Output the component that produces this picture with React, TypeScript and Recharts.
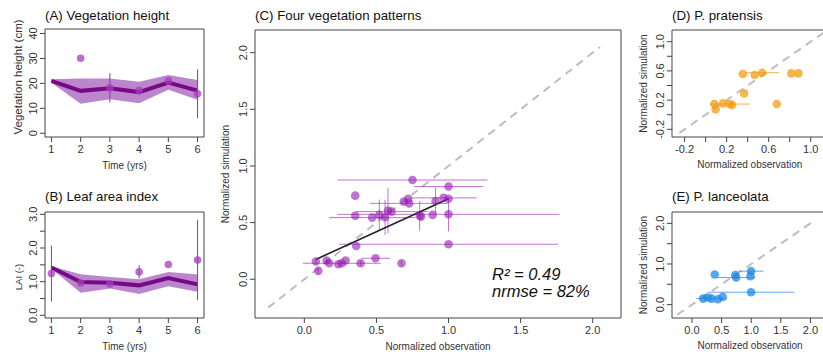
import React from 'react';
import {
  ComposedChart, Area, Line, Scatter, XAxis, YAxis, ErrorBar, ReferenceLine, ReferenceArea,
} from 'recharts';

// (A) vegetation height, years 1-6
const years = [1, 2, 3, 4, 5, 6];
const heightSim = [21, 17, 18, 16.5, 20.3, 17.1];
const heightLo = [20.3, 11.8, 13.6, 12, 17.4, 13.4];
const heightHi = [21.7, 22, 22, 20.7, 23.4, 21.4];
const heightObsYears = [2, 3, 4, 5, 6];
const heightObs = [30.1, 18.2, 17.1, 21, 15.8];
const heightObsErr = [0, 5.9, 0, 0, 9.8];

// (B) leaf area index
const laiSim = [1.42, 0.99, 0.97, 0.89, 1.11, 0.92];
const laiLo = [1.38, 0.67, 0.8, 0.63, 0.86, 0.7];
const laiHi = [1.46, 1.22, 1.14, 1.07, 1.29, 1.21];
const laiObs = [1.24, 0.96, 0.93, 1.29, 1.51, 1.64];
const laiObsErr = [0.83, 0, 0, 0.2, 0, 1.19];

// (C) all four patterns: observation, simulation, half widths of the error bars
const allObs = [0.75, 1.0, 0.353, 0.72, 0.727, 0.69, 0.91, 0.965, 1.0, 0.353, 0.47, 0.52, 0.56, 0.58, 0.605, 0.8,
  0.81, 0.89, 1.0, 0.36, 1.0, 0.08, 0.097, 0.155, 0.173, 0.236, 0.26, 0.286, 0.39, 0.494, 0.674];
const allSim = [0.876, 0.818, 0.738, 0.71, 0.67, 0.685, 0.69, 0.718, 0.71, 0.56, 0.544, 0.568, 0.547, 0.606, 0.597, 0.56,
  0.553, 0.568, 0.573, 0.294, 0.309, 0.156, 0.074, 0.165, 0.141, 0.132, 0.141, 0.165, 0.141, 0.185, 0.141];
const allObsErr = [0.52, 0.24, 0, 0, 0.27, 0, 0, 0.23, 0, 0, 0.3, 0, 0, 0, 0.25, 0,
  0, 0, 0.77, 0, 0.76, 0, 0, 0, 0, 0, 0.27, 0, 0, 0.1, 0];
const allSimErr = [0, 0, 0, 0, 0, 0, 0.12, 0, 0, 0, 0, 0.135, 0.155, 0.2, 0, 0.13,
  0, 0, 0.15, 0, 0, 0.02, 0.03, 0.02, 0, 0, 0, 0, 0.02, 0, 0.02];
const fitLine = [[0.08, 0.175], [1.0, 0.71]];
const oneToOne = [-0.25, 2.05];

// (D) P. pratensis
const pratObs = [0.354, 0.468, 0.538, 0.815, 0.883, 0.366, 0.677, 0.083, 0.095, 0.166, 0.23, 0.252];
const pratSim = [0.557, 0.543, 0.575, 0.566, 0.566, 0.292, 0.146, 0.146, 0.073, 0.155, 0.146, 0.132];
const pratObsErr = [0, 0, 0.16, 0, 0, 0, 0, 0, 0, 0, 0.19, 0];

// (E) P. lanceolata
const lancObs = [0.384, 0.73, 0.746, 0.997, 0.987, 0.997, 0.187, 0.267, 0.437, 0.517, 0.33];
const lancSim = [0.74, 0.73, 0.667, 0.823, 0.7, 0.305, 0.148, 0.173, 0.132, 0.19, 0.148];
const lancObsErr = [0, 0, 0.33, 0.21, 0, 0.73, 0, 0, 0, 0, 0.26];

const FONT = '"Liberation Sans", Arial, sans-serif';
const INK = '#333';
const PURPLE = '#9419b0';
const DARK = '#760a86';
const BAND = '#bb86cc';
const ORANGE = '#f39c12';
const BLUE = '#1e88e5';
const GREY = '#bdbdbd';

const same = (a: number, b: number) => Math.abs(a - b) < 1e-6;

const xTick = (labels: number[], digits: number) => (props: any) => {
  const { x, y, payload } = props;
  if (!labels.some((l) => same(l, payload.value))) return <g />;
  return (
    <text x={x} y={y} dy="0.71em" textAnchor="middle" fontSize={11} fill={INK}>
      {Number(payload.value).toFixed(digits)}
    </text>
  );
};

const yTick = (labels: number[], digits: number) => (props: any) => {
  const { x, y, payload } = props;
  if (!labels.some((l) => same(l, payload.value))) return <g />;
  return (
    <text x={x} y={y} transform={`rotate(-90, ${x}, ${y})`} textAnchor="middle" fontSize={11} fill={INK}>
      {Number(payload.value).toFixed(digits)}
    </text>
  );
};

interface PanelProps {
  left: number; top: number; width: number; height: number;
  box: { l: number; t: number; r: number; b: number };
  xDomain: number[]; yDomain: number[];
  xTicks: number[]; yTicks: number[];
  xLabels?: number[]; yLabels?: number[];
  xDigits: number; yDigits: number;
  xTitle: string; xTitleBase: number;
  yTitle: string; yTitleX: number; yTitleY?: number; yTitleSize?: number;
  data?: any[];
  children: React.ReactNode;
}

function Panel(p: PanelProps) {
  const axisH = p.xTitleBase - p.box.b;
  const ty = (p.yTitleY ?? (p.box.t + p.box.b) / 2) - p.top;
  const tx = p.yTitleX - p.left;
  return (
    <div style={{ position: 'absolute', left: p.left, top: p.top }}>
      <ComposedChart
        width={p.width}
        height={p.height}
        data={p.data}
        margin={{
          top: p.box.t - p.top,
          right: p.left + p.width - p.box.r,
          bottom: p.top + p.height - p.box.b - axisH,
          left: 0,
        }}
      >
        <XAxis
          type="number"
          dataKey="x"
          domain={p.xDomain}
          ticks={p.xTicks}
          interval={0}
          allowDataOverflow
          axisLine={false}
          tickLine={{ stroke: '#444' }}
          tickSize={5}
          tickMargin={3}
          height={axisH}
          tick={xTick(p.xLabels ?? p.xTicks, p.xDigits)}
          label={{ value: p.xTitle, position: 'insideBottom', offset: 0, fontSize: 10, fill: INK }}
        />
        <YAxis
          type="number"
          domain={p.yDomain}
          ticks={p.yTicks}
          interval={0}
          allowDataOverflow
          axisLine={false}
          tickLine={{ stroke: '#444' }}
          tickSize={5}
          tickMargin={3}
          width={p.box.l - p.left}
          tick={yTick(p.yLabels ?? p.yTicks, p.yDigits)}
          label={{
            content: () => (
              <text
                x={tx} y={ty} dy="0.35em" transform={`rotate(-90, ${tx}, ${ty})`}
                textAnchor="middle" fontSize={p.yTitleSize ?? 10} fill={INK}
              >
                {p.yTitle}
              </text>
            ),
          }}
        />
        <ReferenceArea
          x1={p.xDomain[0]} x2={p.xDomain[1]} y1={p.yDomain[0]} y2={p.yDomain[1]}
          fill="none" stroke="#444" strokeWidth={1}
        />
        {p.children}
      </ComposedChart>
    </div>
  );
}

const dot = (fill: string, opacity: number, r: number) => (props: any) => (
  <circle cx={props.cx} cy={props.cy} r={r} fill={fill} fillOpacity={opacity} />
);

const heightData = years.map((x, i) => ({ x, sim: heightSim[i], band: [heightLo[i], heightHi[i]] }));
const heightPts = heightObsYears.map((x, i) => ({ x, y: heightObs[i], err: heightObsErr[i] }));
const laiData = years.map((x, i) => ({ x, sim: laiSim[i], band: [laiLo[i], laiHi[i]] }));
const laiPts = years.map((x, i) => ({ x, y: laiObs[i], err: laiObsErr[i] }));
const allPts = allObs.map((x, i) => ({ x, y: allSim[i], ex: allObsErr[i], ey: allSimErr[i] }));
const pratPts = pratObs.map((x, i) => ({ x, y: pratSim[i], ex: pratObsErr[i] }));
const lancPts = lancObs.map((x, i) => ({ x, y: lancSim[i], ex: lancObsErr[i] }));

const diag = (
  <ReferenceLine
    segment={[{ x: oneToOne[0], y: oneToOne[0] }, { x: oneToOne[1], y: oneToOne[1] }]}
    stroke={GREY} strokeWidth={2} strokeDasharray="8 6" ifOverflow="hidden"
  />
);

export default function App() {
  return (
    <div
      style={{
        position: 'absolute', left: 0, top: 0, width: 823, height: 352, overflow: 'hidden',
        background: '#fff', fontFamily: FONT,
      }}
    >
      <Panel
        left={0} top={0} width={215} height={176}
        box={{ l: 45, t: 29, r: 204, b: 137 }}
        xDomain={[0.78, 6.22]} yDomain={[-1.5, 41.8]}
        xTicks={years} yTicks={[0, 10, 20, 30, 40]} xDigits={0} yDigits={0}
        xTitle="Time (yrs)" xTitleBase={168.5}
        yTitle="Vegetation height (cm)" yTitleX={17.5} yTitleY={77} yTitleSize={11.5}
        data={heightData}
      >
        <Area dataKey="band" type="linear" fill={BAND} fillOpacity={1} stroke="none" isAnimationActive={false} />
        <Line dataKey="sim" type="linear" stroke={DARK} strokeWidth={4} dot={false} isAnimationActive={false} />
        <Scatter data={heightPts} dataKey="y" shape={dot('#a33cbf', 0.75, 3.8)} isAnimationActive={false}>
          <ErrorBar dataKey="err" direction="y" width={0} stroke="#9a2fb5" strokeWidth={1} />
        </Scatter>
      </Panel>

      <Panel
        left={0} top={176} width={215} height={176}
        box={{ l: 45, t: 212, r: 204, b: 318 }}
        xDomain={[0.78, 6.22]} yDomain={[-0.08, 3.07]}
        xTicks={years} yTicks={[0, 0.5, 1, 1.5, 2, 2.5, 3]} yLabels={[0, 1, 2, 3]} xDigits={0} yDigits={1}
        xTitle="Time (yrs)" xTitleBase={349.5}
        yTitle="LAI (-)" yTitleX={18.5} yTitleY={277} yTitleSize={9.5}
        data={laiData}
      >
        <Area dataKey="band" type="linear" fill={BAND} fillOpacity={1} stroke="none" isAnimationActive={false} />
        <Line dataKey="sim" type="linear" stroke={DARK} strokeWidth={4} dot={false} isAnimationActive={false} />
        <Scatter data={laiPts} dataKey="y" shape={dot('#a33cbf', 0.75, 3.8)} isAnimationActive={false}>
          <ErrorBar dataKey="err" direction="y" width={0} stroke="#9a2fb5" strokeWidth={1} />
        </Scatter>
      </Panel>

      <Panel
        left={215} top={0} width={410} height={352}
        box={{ l: 255, t: 30, r: 621, b: 318 }}
        xDomain={[-0.342, 2.196]} yDomain={[-0.342, 2.2]}
        xTicks={[0, 0.5, 1, 1.5, 2]} yTicks={[0, 0.5, 1, 1.5, 2]} xDigits={1} yDigits={1}
        xTitle="Normalized observation" xTitleBase={349.5}
        yTitle="Normalized simulation" yTitleX={225}
      >
        {diag}
        <Scatter data={allPts} dataKey="y" shape={dot(PURPLE, 0.6, 4.3)} isAnimationActive={false}>
          <ErrorBar dataKey="ex" direction="x" width={0} stroke={PURPLE} strokeOpacity={0.6} strokeWidth={1} />
          <ErrorBar dataKey="ey" direction="y" width={0} stroke={PURPLE} strokeOpacity={0.6} strokeWidth={1} />
        </Scatter>
        <ReferenceLine
          segment={[{ x: fitLine[0][0], y: fitLine[0][1] }, { x: fitLine[1][0], y: fitLine[1][1] }]}
          stroke="#222" strokeWidth={1.6}
        />
      </Panel>

      <Panel
        left={620} top={0} width={210} height={176}
        box={{ l: 672, t: 30, r: 827.5, b: 137 }}
        xDomain={[-0.32, 1.16]} yDomain={[-0.305, 1.16]}
        xTicks={[-0.2, 0, 0.2, 0.4, 0.6, 0.8, 1]} yTicks={[-0.2, 0, 0.2, 0.4, 0.6, 0.8, 1]}
        xLabels={[-0.2, 0.2, 0.6, 1]} yLabels={[-0.2, 0.2, 0.6, 1]} xDigits={1} yDigits={1}
        xTitle="Normalized observation" xTitleBase={167.5}
        yTitle="Normalized simulation" yTitleX={643}
      >
        {diag}
        <Scatter data={pratPts} dataKey="y" shape={dot(ORANGE, 0.75, 4.3)} isAnimationActive={false}>
          <ErrorBar dataKey="ex" direction="x" width={0} stroke={ORANGE} strokeOpacity={0.8} strokeWidth={1} />
        </Scatter>
      </Panel>

      <Panel
        left={620} top={176} width={210} height={176}
        box={{ l: 672, t: 212, r: 828, b: 318 }}
        xDomain={[-0.338, 2.297]} yDomain={[-0.33, 2.28]}
        xTicks={[0, 0.5, 1, 1.5, 2]} yTicks={[0, 0.5, 1, 1.5, 2]} yLabels={[0, 1, 2]} xDigits={1} yDigits={1}
        xTitle="Normalized observation" xTitleBase={348.5}
        yTitle="Normalized simulation" yTitleX={643}
      >
        {diag}
        <Scatter data={lancPts} dataKey="y" shape={dot(BLUE, 0.75, 4.3)} isAnimationActive={false}>
          <ErrorBar dataKey="ex" direction="x" width={0} stroke={BLUE} strokeOpacity={0.7} strokeWidth={1} />
        </Scatter>
      </Panel>

      <svg width={823} height={352} style={{ position: 'absolute', left: 0, top: 0, pointerEvents: 'none' }}>
        <g fill="#111" fontSize={13.3}>
          <text x={45} y={20}>(A) Vegetation height</text>
          <text x={45} y={201}>(B) Leaf area index</text>
          <text x={255} y={20}>(C) Four vegetation patterns</text>
          <text x={672} y={20}>(D) P. pratensis</text>
          <text x={672} y={201}>(E) P. lanceolata</text>
        </g>
        <g fill="#111" fontSize={16.5} fontStyle="italic">
          <text x={492} y={280}>R² = 0.49</text>
          <text x={492} y={297}>nrmse = 82%</text>
        </g>
      </svg>
    </div>
  );
}
